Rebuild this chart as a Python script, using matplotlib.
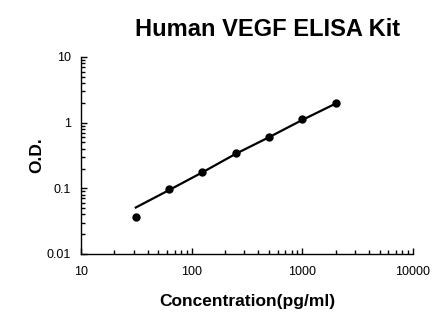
import matplotlib
matplotlib.use("Agg")
import matplotlib.pyplot as plt
from matplotlib.ticker import LogLocator, NullFormatter, FixedLocator, FixedFormatter

plt.rcParams['font.family'] = ['Liberation Sans', 'DejaVu Sans']

# standard curve data
concentracao = [31.25, 62.5, 125, 250, 500, 1000, 2000]
od = [0.036, 0.096, 0.177, 0.34, 0.60, 1.14, 1.99]
# fitted curve
od_ajuste = [0.051, 0.094, 0.175, 0.335, 0.60, 1.10, 1.95]

x_ticks = [10, 100, 1000, 10000]
x_labels = ["10", "100", "1000", "10000"]
y_ticks = [0.01, 0.1, 1, 10]
y_labels = ["0.01", "0.1", "1", "10"]

fig = plt.figure(figsize=(4.46, 3.26), dpi=100)
ax = fig.add_axes([0.1816, 0.2209, 0.7444, 0.6043])

ax.plot(concentracao, od_ajuste, color="black", linewidth=1.6)
ax.plot(concentracao, od, "o", color="black", markersize=5)

ax.set_xscale("log")
ax.set_yscale("log")
ax.set_xlim(10, 10000)
ax.set_ylim(0.01, 10)

ax.xaxis.set_major_locator(FixedLocator(x_ticks))
ax.xaxis.set_major_formatter(FixedFormatter(x_labels))
ax.yaxis.set_major_locator(FixedLocator(y_ticks))
ax.yaxis.set_major_formatter(FixedFormatter(y_labels))
ax.xaxis.set_minor_locator(LogLocator(base=10, subs=range(2, 10)))
ax.yaxis.set_minor_locator(LogLocator(base=10, subs=range(2, 10)))
ax.xaxis.set_minor_formatter(NullFormatter())
ax.yaxis.set_minor_formatter(NullFormatter())

ax.tick_params(which="major", direction="in", length=4, width=1, labelsize=9)
ax.tick_params(which="minor", direction="in", length=3, width=1)
ax.tick_params(axis="x", which="major", pad=9)
ax.tick_params(axis="y", which="major", pad=7)

for lado in ["top", "right"]:
    ax.spines[lado].set_visible(False)
for lado in ["left", "bottom"]:
    ax.spines[lado].set_linewidth(1)

ax.set_xlabel("Concentration(pg/ml)", fontsize=12.5, fontweight="bold", labelpad=11)
ax.set_ylabel("O.D.", fontsize=12.5, fontweight="bold", labelpad=2)

fig.text(0.601, 0.91, "Human VEGF ELISA Kit", fontsize=17, fontweight="bold",
         ha="center", va="center")

fig.savefig("out.png", dpi=100)
